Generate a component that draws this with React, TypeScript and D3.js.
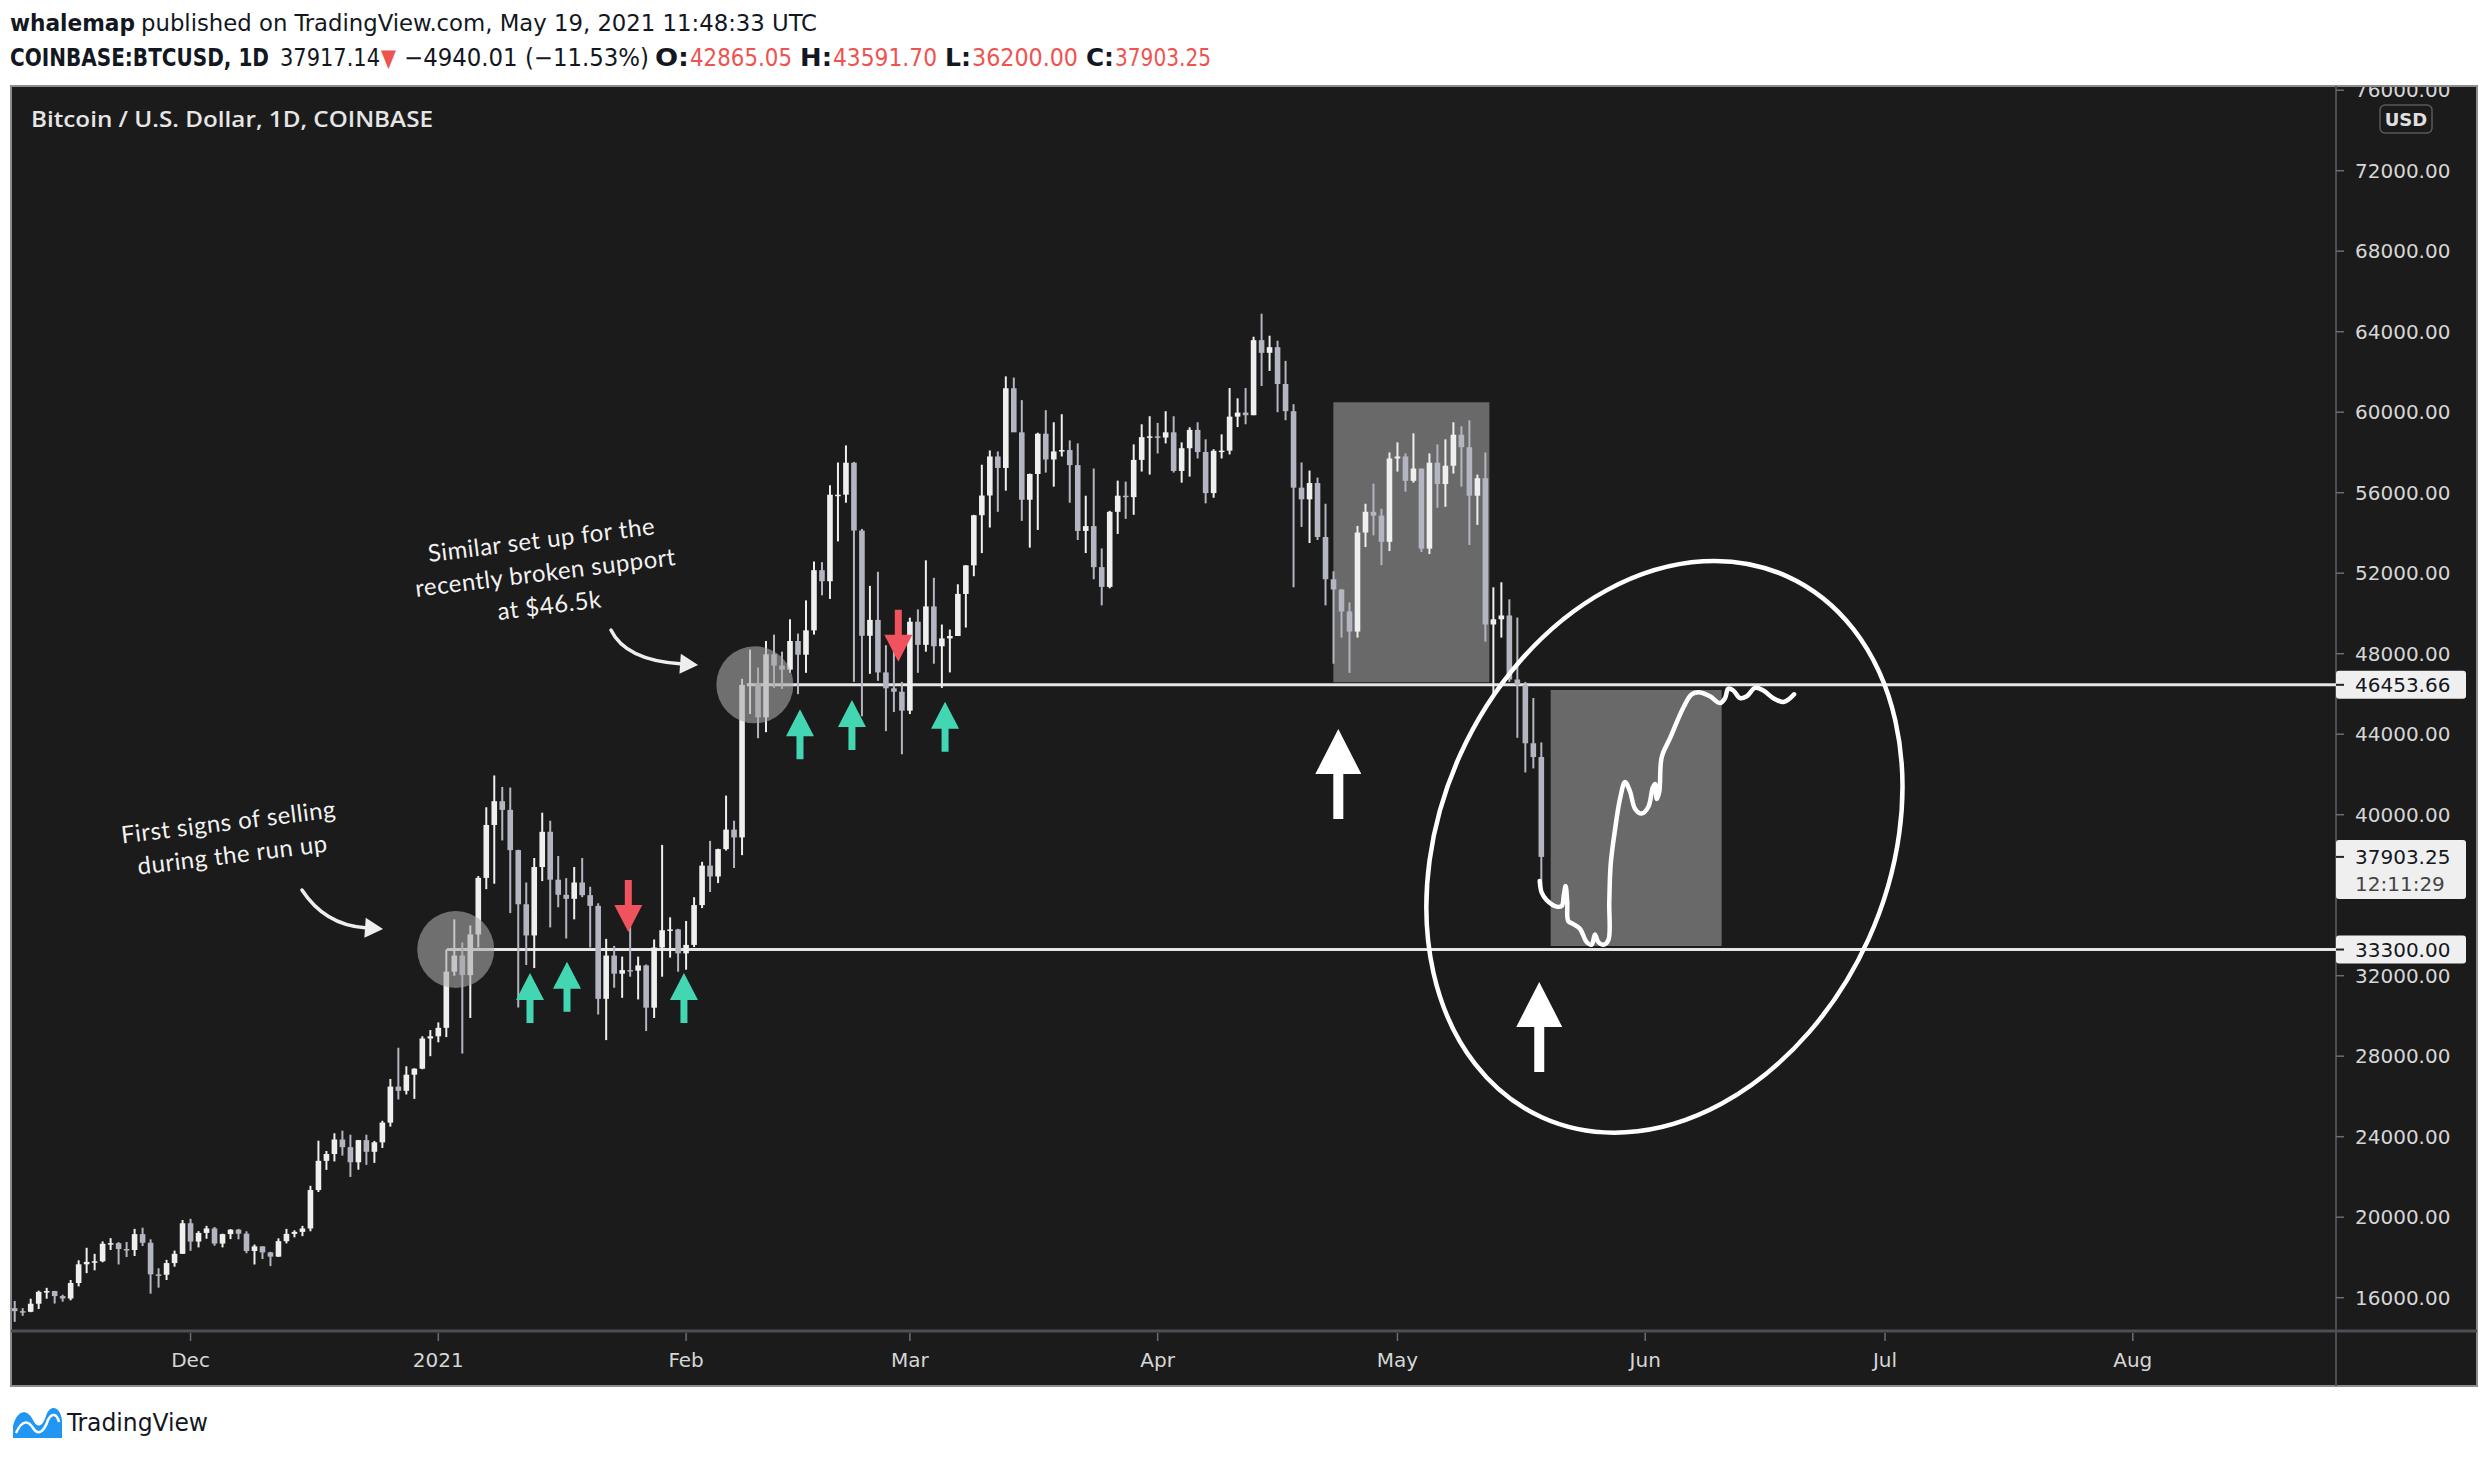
import React from 'react';
import * as d3 from 'd3';

// ---------- DATA (Coinbase BTCUSD, 1D) : [open, high, low, close] ----------
const firstDay = Date.UTC(2020, 10, 9);
const nov2020 = [
  [15479, 15840, 14800, 15332], [15332, 15480, 15100, 15300], [15300, 15950, 15280, 15700],
  [15700, 16350, 15440, 16290], [16290, 16490, 15950, 16330], [16330, 16340, 15710, 16080],
  [16080, 16150, 15800, 15960], [15960, 16880, 15870, 16730], [16730, 17860, 16560, 17660],
  [17660, 18480, 17220, 17780], [17780, 18180, 17360, 17810], [17810, 18800, 17760, 18680],
  [18680, 18960, 18370, 18710], [18710, 18760, 17650, 18420], [18420, 18770, 18020, 18370],
  [18370, 19420, 18070, 19160], [19160, 19480, 18570, 18730], [18730, 18900, 16200, 17160],
  [17160, 17460, 16500, 17140], [17140, 17880, 16880, 17720], [17720, 18340, 17540, 18180],
  [18180, 19860, 18180, 19700],
];
const dec2020 = [
  [19700, 19920, 18330, 18790], [18790, 19310, 18500, 19220], [19220, 19570, 18930, 19440],
  [19440, 19510, 18580, 18690], [18690, 19180, 18500, 19160], [19160, 19410, 18910, 19380],
  [19380, 19420, 18900, 19180], [19180, 19300, 18210, 18320], [18320, 18640, 17650, 18550],
  [18550, 18560, 17920, 18250], [18250, 18280, 17570, 18040], [18040, 18950, 18020, 18810],
  [18810, 19420, 18700, 19170], [19170, 19350, 19000, 19270], [19270, 19570, 19060, 19440],
  [19440, 21560, 19300, 21350], [21350, 23800, 21250, 22800], [22800, 23290, 22350, 23140],
  [23140, 24170, 22770, 23860], [23860, 24300, 23060, 23480], [23480, 24100, 22000, 22730],
  [22730, 23840, 22360, 23830], [23830, 24100, 22600, 23250], [23250, 23790, 22700, 23720],
  [23720, 24790, 23440, 24700], [24700, 26870, 24500, 26490], [26490, 28420, 25850, 26280],
  [26280, 27500, 26100, 27080], [27080, 27400, 25880, 27380], [27380, 28990, 27350, 28880],
  [28880, 29300, 28000, 28990],
];
const jan2021 = [
  [28990, 29680, 28690, 29410], [29410, 33300, 28950, 32200], [32200, 34800, 32000, 33000],
  [33000, 33650, 28130, 32030], [32030, 34500, 29900, 34050], [34050, 36950, 33400, 36860],
  [36860, 40370, 36300, 39490], [39490, 41950, 36570, 40670], [40670, 41380, 38720, 40240],
  [40240, 41350, 35110, 38240], [38240, 38260, 30420, 35550], [35550, 36630, 32530, 34000],
  [34000, 37850, 32380, 37400], [37400, 40100, 36700, 39150], [39150, 39700, 34400, 36770],
  [36770, 37950, 35400, 36020], [36020, 36850, 33850, 35820], [35820, 37400, 34800, 36630],
  [36630, 37850, 35900, 36000], [36000, 36420, 33400, 35470], [35470, 35600, 30070, 30850],
  [30850, 33830, 28800, 33000], [33000, 33480, 31400, 32100], [32100, 32950, 30900, 32280],
  [32280, 34880, 31950, 32250], [32250, 32950, 30820, 32510], [32510, 32560, 29250, 30410],
  [30410, 33800, 29900, 33400], [33400, 38500, 31950, 34260], [34260, 34900, 32900, 34300],
  [34300, 34330, 32200, 33110],
];
const feb2021 = [
  [33110, 34720, 32300, 33530], [33530, 35900, 33420, 35510], [35510, 37660, 35360, 37470],
  [37470, 38700, 36160, 36930], [36930, 38310, 36600, 38290], [38290, 40950, 38220, 39260],
  [39260, 39700, 37350, 38870], [38870, 46750, 37990, 46450], [46450, 48200, 45000, 46510],
  [46510, 47310, 43800, 44840], [44840, 48630, 44100, 47970], [47970, 48950, 46300, 47410],
  [47410, 48100, 46250, 47210], [47210, 49710, 47050, 48630], [48630, 49000, 45990, 47950],
  [47950, 50650, 47050, 49160], [49160, 52580, 48950, 52150], [52150, 52550, 50900, 51600],
  [51600, 56370, 50720, 55900], [55900, 57500, 53580, 55900], [55900, 58350, 55500, 57490],
  [57490, 57530, 46600, 54120], [54120, 54200, 44890, 48890], [48890, 51370, 47000, 49680],
  [49680, 52070, 46650, 47070], [47070, 48420, 44150, 46280], [46280, 48380, 45100, 46110],
  [46110, 46600, 43000, 45170],
];
const mar2021 = [
  [45170, 49790, 45000, 49590], [49590, 50200, 47050, 48440], [48440, 52640, 48100, 50350],
  [50350, 51770, 47500, 48370], [48370, 49450, 46300, 48760], [48760, 49200, 47070, 48880],
  [48880, 51450, 48880, 50970], [50970, 52400, 49300, 52390], [52390, 54900, 51850, 54880],
  [54880, 57390, 53000, 55860], [55860, 58100, 54270, 57800], [57800, 58050, 55050, 57230],
  [57230, 61780, 56100, 61190], [61190, 61720, 59020, 59000], [59000, 60600, 54600, 55650],
  [55650, 56950, 53270, 56930], [56930, 58980, 54150, 58930], [58930, 60100, 57000, 57650],
  [57650, 59500, 56300, 58050], [58050, 59900, 57800, 58120], [58120, 58600, 55500, 57370],
  [57370, 58450, 53650, 54100], [54100, 55850, 53000, 54340], [54340, 57200, 51700, 52300],
  [52300, 53230, 50400, 51320], [51320, 55100, 51250, 55050], [55050, 56600, 53950, 55850],
  [55850, 56550, 54700, 55780], [55780, 58400, 54900, 57630], [57630, 59400, 57050, 58760],
  [58760, 59800, 56900, 58800],
];
const apr2021 = [
  [58800, 59470, 57950, 58740], [58740, 60050, 58450, 59000], [59000, 59800, 57000, 57080],
  [57080, 58500, 56500, 58210], [58210, 59250, 56800, 59120], [59120, 59500, 57700, 58020],
  [58020, 58650, 55470, 55980], [55980, 58160, 55750, 58080], [58080, 58900, 57700, 58090],
  [58090, 61200, 57900, 59780], [59780, 60690, 59260, 59980], [59980, 61200, 59400, 59850],
  [59850, 63750, 59850, 63580], [63580, 64895, 61300, 62950], [62950, 63800, 62050, 63230],
  [63230, 63550, 60000, 61400], [61400, 62550, 59600, 60050], [60050, 60400, 51300, 56250],
  [56250, 57500, 54300, 55670], [55670, 57100, 53500, 56480], [56480, 56750, 53650, 53800],
  [53800, 55450, 50400, 51700], [51700, 52100, 47500, 51190], [51190, 51200, 48800, 50100],
  [50100, 50550, 47050, 49100], [49100, 54350, 48800, 54020], [54020, 55450, 53300, 55050],
  [55050, 56450, 53880, 54860], [54860, 55200, 52400, 53560], [53560, 58000, 53100, 57700],
];
const may2021 = [
  [57700, 58500, 57050, 57800], [57800, 57950, 56050, 56590], [56590, 58950, 56500, 57200],
  [57200, 57200, 53050, 53220], [53220, 57950, 52950, 57490], [57490, 58400, 55250, 56430],
  [56430, 58650, 55300, 57340], [57340, 59500, 56950, 58880], [58880, 59300, 56300, 58260],
  [58260, 59600, 53400, 55850], [55850, 56900, 54400, 56720], [56720, 58000, 48600, 49450],
  [49450, 51300, 46000, 49710], [49710, 51550, 48800, 49900], [49900, 50700, 46600, 46720],
  [46720, 49800, 43820, 46450], [46450, 46600, 42100, 43550], [43550, 45800, 42300, 42865],
  [42865.05, 43591.7, 36200, 37903.25],
];

const yTicks = [16000, 20000, 24000, 28000, 32000, 36000, 40000, 44000, 48000, 52000, 56000, 60000, 64000, 68000, 72000, 76000];
const monthTickDates = [
  Date.UTC(2020, 11, 1), Date.UTC(2021, 0, 1), Date.UTC(2021, 1, 1), Date.UTC(2021, 2, 1),
  Date.UTC(2021, 3, 1), Date.UTC(2021, 4, 1), Date.UTC(2021, 5, 1), Date.UTC(2021, 6, 1), Date.UTC(2021, 7, 1),
];
const monthTickLabels = ['Dec', '2021', 'Feb', 'Mar', 'Apr', 'May', 'Jun', 'Jul', 'Aug'];

// levels & drawings (day index from first candle, price)
const supportLevels = [
  { price: 46453.66, fromDay: 91.6, label: '46453.66' },
  { price: 33300, fromDay: 54.05, label: '33300.00' },
];
const lastPrice = 37903.25;
const lastPriceLabel = '37903.25';
const countdownLabel = '12:11:29';
const boxes = [
  { d0: 164.98, d1: 184.5, p0: 46580, p1: 60492 },
  { d0: 192.17, d1: 213.56, p0: 33476, p1: 46197 },
];
const circles = [
  { day: 55.18, price: 33300 },
  { day: 92.6, price: 46453.66 },
];
const tealArrows = [
  { day: 64.47, price: 32134 }, { day: 69.1, price: 32696 }, { day: 83.73, price: 32134 },
  { day: 98.25, price: 45237 }, { day: 104.75, price: 45699 }, { day: 116.4, price: 45615 },
];
const redArrows = [
  { day: 76.77, price: 34171 }, { day: 110.55, price: 47602 },
];
const whiteArrows = [
  { day: 165.6, price: 44258 }, { day: 190.74, price: 31687 },
];
const projDays = [190.8, 191.04, 191.67, 192.92, 193.55, 193.83, 194.04, 194.24, 194.37, 195.0, 195.83, 196.67, 197.3, 197.71, 198.12, 198.75, 199.38, 199.5, 199.68, 200.22, 200.84, 201.47, 202.1, 202.72, 203.56, 204.39, 204.94, 205.23, 205.44, 205.76, 206.06, 207.1, 208.76, 209.81, 210.85, 212.1, 213.35, 213.98, 214.39, 215.02, 215.86, 216.7, 217.74, 218.78, 220.03, 221.28, 222.12, 222.62];
const projPrices = [36701, 36134, 35757, 35434, 35468, 36040, 36457, 35662, 34718, 34564, 34335, 33674, 33540, 34052, 33674, 33540, 33764, 35662, 37550, 39260, 40780, 41625, 41153, 40298, 40055, 40393, 41342, 41530, 40780, 41153, 42857, 43801, 45317, 45983, 46077, 45883, 45545, 45789, 46266, 46171, 45789, 45883, 46301, 46171, 45789, 45600, 45789, 45983];
const ellipseCenter = { day: 206.4, price: 38405 };
const curvedArrows = [
  { from: [35.94, 36258], ctrl: [38.8, 34519], to: [46.08, 34325] },
  { from: [74.6, 49178], ctrl: [76.4, 47687], to: [85.5, 47439] },
];
const noteLeft = { day: 27, price: 38800, lines: ['First signs of selling', 'during the run up'] };
const noteTop = { day: 66.4, price: 52010, lines: ['Similar set up for the', 'recently broken support', 'at $46.5k'] };

// ---------- LAYOUT ----------
const W = 2490, H = 1460;
const frameL = 11, frameT = 86, frameR = 2477, frameB = 1386;
const axisX = 2336, axisY = 1331;
const DAY = 86400000;
const dayDate = (d: number) => new Date(firstDay + d * DAY);

const x = d3.scaleUtc().domain([new Date(firstDay), new Date(Date.UTC(2021, 7, 1))]).range([14.7, 2132.8]);
const y = d3.scaleLinear().domain([16000, 72000]).range([1297.7, 170.7]);
const xd = (d: number) => x(dayDate(d));

const candles = [...nov2020, ...dec2020, ...jan2021, ...feb2021, ...mar2021, ...apr2021, ...may2021].map((c, i) => ({
  i, o: c[0], h: c[1], l: c[2], c: c[3],
}));

const UP = '#efefef', DOWN = '#b3b6c0';
const TEAL = '#43d6b2', RED = '#f0525e';
const axisFont = "'DejaVu Sans', Verdana, sans-serif";
const headFont = "'Liberation Sans Narrow', 'DejaVu Sans Condensed', 'Liberation Sans', sans-serif";

// price-label boxes on the axis (value, top offset, height)
const lastBoxTop = -17, lastBoxH = 59;

function StraightArrow({ cx, tipY, dir, color, headH, headW, stemW, len }: any) {
  const s = dir === -1 ? 1 : -1;
  const baseY = tipY + s * headH;
  const endY = tipY + s * len;
  const pts = [
    [cx, tipY], [cx + headW / 2, baseY], [cx + stemW / 2, baseY], [cx + stemW / 2, endY],
    [cx - stemW / 2, endY], [cx - stemW / 2, baseY], [cx - headW / 2, baseY],
  ];
  return <polygon points={pts.map((p) => p.join(',')).join(' ')} fill={color} />;
}

export default function App() {
  const bodyW = 5.6;
  const line = d3.line<number>().x((_, i) => xd(projDays[i])).y((p) => y(p)).curve(d3.curveCatmullRom.alpha(0.5));
  const projPath = line(projPrices) || '';

  // tick labels hidden behind the price boxes (as TradingView does)
  const lastTop = y(lastPrice) + lastBoxTop, lastBot = lastTop + lastBoxH;
  const visibleTicks = yTicks.filter((v) => {
    const ty = y(v);
    if (ty > lastTop - 4 && ty < lastBot + 4) return false;
    return true;
  });

  return (
    <svg width={W} height={H} viewBox={`0 0 ${W} ${H}`} style={{ position: 'absolute', left: 0, top: 0, display: 'block', background: '#ffffff' }}>
      <defs>
        <clipPath id="plotClip">
          <rect x={frameL + 1} y={frameT + 1} width={axisX - frameL - 1} height={axisY - frameT - 1} />
        </clipPath>
        <clipPath id="axisClip">
          <rect x={axisX} y={frameT + 1} width={frameR - axisX} height={axisY - frameT - 1} />
        </clipPath>
      </defs>

      {/* header */}
      <text y={31} fontFamily={headFont} fontSize={23} fill="#131722">
        <tspan x={10} fontWeight="bold" textLength={125} lengthAdjust="spacingAndGlyphs">whalemap</tspan>
        <tspan x={141} textLength={676} lengthAdjust="spacingAndGlyphs">published on TradingView.com, May 19, 2021 11:48:33 UTC</tspan>
      </text>
      <text y={66} fontFamily={headFont} fontSize={24} fill="#131722">
        <tspan x={10} fontWeight="bold" textLength={259} lengthAdjust="spacingAndGlyphs">COINBASE:BTCUSD, 1D</tspan>
        <tspan x={280} textLength={100} lengthAdjust="spacingAndGlyphs">37917.14</tspan>
        <tspan x={381} fill="#ef5350" textLength={15} lengthAdjust="spacingAndGlyphs">▼</tspan>
        <tspan x={404} textLength={245} lengthAdjust="spacingAndGlyphs">−4940.01 (−11.53%)</tspan>
        <tspan x={655} fontWeight="bold" textLength={34} lengthAdjust="spacingAndGlyphs">O:</tspan>
        <tspan x={690} fill="#ef5350" textLength={102} lengthAdjust="spacingAndGlyphs">42865.05</tspan>
        <tspan x={800} fontWeight="bold" textLength={32} lengthAdjust="spacingAndGlyphs">H:</tspan>
        <tspan x={833} fill="#ef5350" textLength={104} lengthAdjust="spacingAndGlyphs">43591.70</tspan>
        <tspan x={945} fontWeight="bold" textLength={26} lengthAdjust="spacingAndGlyphs">L:</tspan>
        <tspan x={972} fill="#ef5350" textLength={106} lengthAdjust="spacingAndGlyphs">36200.00</tspan>
        <tspan x={1086} fontWeight="bold" textLength={28} lengthAdjust="spacingAndGlyphs">C:</tspan>
        <tspan x={1115} fill="#ef5350" textLength={96} lengthAdjust="spacingAndGlyphs">37903.25</tspan>
      </text>

      {/* frame */}
      <rect x={frameL} y={frameT} width={frameR - frameL} height={frameB - frameT} fill="#1b1b1b" stroke="#8c8c8c" strokeWidth={2} />
      <line x1={frameL} x2={frameR} y1={axisY} y2={axisY} stroke="#4e4f55" strokeWidth={3} />
      <line x1={axisX} x2={axisX} y1={frameT} y2={frameB} stroke="#4b4d57" strokeWidth={2} />

      <text x={31} y={127} fontFamily="'Open Sans', sans-serif" fontWeight={600} fontSize={22} fill="#e6e6e6" textLength={402} lengthAdjust="spacingAndGlyphs">Bitcoin / U.S. Dollar, 1D, COINBASE</text>

      {/* plot */}
      <g clipPath="url(#plotClip)">
        {boxes.map((b, k) => (
          <rect key={k} x={xd(b.d0)} y={y(b.p1)} width={xd(b.d1) - xd(b.d0)} height={y(b.p0) - y(b.p1)} fill="#696969" />
        ))}
        {supportLevels.map((s, k) => (
          <line key={k} x1={xd(s.fromDay)} x2={axisX} y1={y(s.price)} y2={y(s.price)} stroke="#e6e6e6" strokeWidth={3} />
        ))}
        {candles.map((c) => {
          const cx = xd(c.i);
          const col = c.c >= c.o ? UP : DOWN;
          const top = y(Math.max(c.o, c.c));
          const bot = y(Math.min(c.o, c.c));
          return (
            <g key={c.i}>
              <line x1={cx} x2={cx} y1={y(c.h)} y2={y(c.l)} stroke={col} strokeWidth={2} />
              <rect x={cx - bodyW / 2} y={top} width={bodyW} height={Math.max(1.5, bot - top)} fill={col} />
            </g>
          );
        })}
        {circles.map((c, k) => (
          <circle key={k} cx={xd(c.day)} cy={y(c.price)} r={38.5} fill="#a8a8a8" fillOpacity={0.6} />
        ))}
        {tealArrows.map((a, k) => (
          <StraightArrow key={k} cx={xd(a.day)} tipY={y(a.price)} dir={-1} color={TEAL} headH={27} headW={28} stemW={7} len={50} />
        ))}
        {redArrows.map((a, k) => (
          <StraightArrow key={k} cx={xd(a.day)} tipY={y(a.price)} dir={1} color={RED} headH={27} headW={28} stemW={7} len={52} />
        ))}
        {whiteArrows.map((a, k) => (
          <StraightArrow key={k} cx={xd(a.day)} tipY={y(a.price)} dir={-1} color="#ffffff" headH={45} headW={46} stemW={10} len={90} />
        ))}
        <path d={projPath} fill="none" stroke="#ffffff" strokeWidth={4.5} strokeLinecap="round" strokeLinejoin="round" />
        <ellipse cx={xd(ellipseCenter.day)} cy={y(ellipseCenter.price)} rx={224} ry={297}
          transform={`rotate(24.4 ${xd(ellipseCenter.day)} ${y(ellipseCenter.price)})`} fill="none" stroke="#ffffff" strokeWidth={4.5} />
        {curvedArrows.map((a, k) => {
          const p0 = [xd(a.from[0]), y(a.from[1])];
          const p1 = [xd(a.ctrl[0]), y(a.ctrl[1])];
          const p2 = [xd(a.to[0]), y(a.to[1])];
          const ang = Math.atan2(p2[1] - p1[1], p2[0] - p1[0]);
          const L = 18, Wd = 10;
          const bx = p2[0] - L * Math.cos(ang), by = p2[1] - L * Math.sin(ang);
          const h1 = [bx + Wd * Math.sin(ang), by - Wd * Math.cos(ang)];
          const h2 = [bx - Wd * Math.sin(ang), by + Wd * Math.cos(ang)];
          return (
            <g key={k}>
              <path d={`M${p0[0]},${p0[1]} Q${p1[0]},${p1[1]} ${bx},${by}`} fill="none" stroke="#eeeeee" strokeWidth={3.5} strokeLinecap="round" />
              <polygon points={`${p2[0]},${p2[1]} ${h1[0]},${h1[1]} ${h2[0]},${h2[1]}`} fill="#eeeeee" />
            </g>
          );
        })}
        {[noteLeft, noteTop].map((n, k) => {
          const cx = xd(n.day), cy = y(n.price);
          return (
            <g key={k} transform={`rotate(-7 ${cx} ${cy})`}>
              {n.lines.map((t, j) => (
                <text key={j} x={cx} y={cy + (j - (n.lines.length - 1) / 2) * 33 + 8} textAnchor="middle"
                  fontFamily="'Lato', 'Open Sans', sans-serif" fontSize={24} fill="#f2f2f2" letterSpacing={0.5}>{t}</text>
              ))}
            </g>
          );
        })}
      </g>

      {/* x axis */}
      {monthTickDates.map((t, k) => (
        <g key={k}>
          <line x1={x(new Date(t))} x2={x(new Date(t))} y1={axisY + 2} y2={axisY + 10} stroke="#6a6d78" strokeWidth={1.5} />
          <text x={x(new Date(t))} y={1367} textAnchor="middle" fontFamily={axisFont} fontSize={20} fill="#d6d6d6">{monthTickLabels[k]}</text>
        </g>
      ))}

      {/* y axis */}
      <g clipPath="url(#axisClip)">
        {yTicks.map((v) => (
          <line key={v} x1={axisX} x2={axisX + 8} y1={y(v)} y2={y(v)} stroke="#6a6d78" strokeWidth={1.5} />
        ))}
        {visibleTicks.map((v) => (
          <text key={v} x={2355} y={y(v) + 7} fontFamily={axisFont} fontSize={20} fill="#d6d6d6">{v.toFixed(2)}</text>
        ))}
        <rect x={2380} y={105} width={52} height={28} rx={5} fill="#1b1b1b" stroke="#5a5a5a" strokeWidth={1.5} />
        <text x={2406} y={126} textAnchor="middle" fontFamily={axisFont} fontSize={18} fontWeight="bold" fill="#e0e0e0">USD</text>

        {supportLevels.map((s, k) => (
          <g key={k}>
            <rect x={axisX} y={y(s.price) - 14} width={130} height={28} rx={3} fill="#efefef" />
            <line x1={axisX} x2={axisX + 8} y1={y(s.price)} y2={y(s.price)} stroke="#222" strokeWidth={2} />
            <text x={2355} y={y(s.price) + 7} fontFamily={axisFont} fontSize={20} fill="#131722">{s.label}</text>
          </g>
        ))}
        <rect x={axisX} y={lastTop} width={130} height={lastBoxH} rx={3} fill="#efefef" />
        <line x1={axisX} x2={axisX + 8} y1={y(lastPrice)} y2={y(lastPrice)} stroke="#222" strokeWidth={2} />
        <text x={2355} y={y(lastPrice) + 7} fontFamily={axisFont} fontSize={20} fill="#131722">{lastPriceLabel}</text>
        <text x={2355} y={y(lastPrice) + 34} fontFamily={axisFont} fontSize={20} fill="#444">{countdownLabel}</text>
      </g>

      {/* footer logo */}
      <g>
        <path d="M13,1438 L13,1426 C17,1410 27,1408 33,1420 C37,1428 42,1428 46,1416 C50,1404 60,1406 62,1420 L62,1438 Z" fill="#2196f3" />
        <path d="M16,1433 C22,1420 28,1420 33,1428 C38,1436 44,1432 48,1420 C52,1412 57,1414 59,1422" fill="none" stroke="#ffffff" strokeWidth={2.5} />
        <text x={67} y={1431} fontFamily={headFont} fontSize={25} fill="#131722" textLength={141} lengthAdjust="spacingAndGlyphs">TradingView</text>
      </g>
    </svg>
  );
}
